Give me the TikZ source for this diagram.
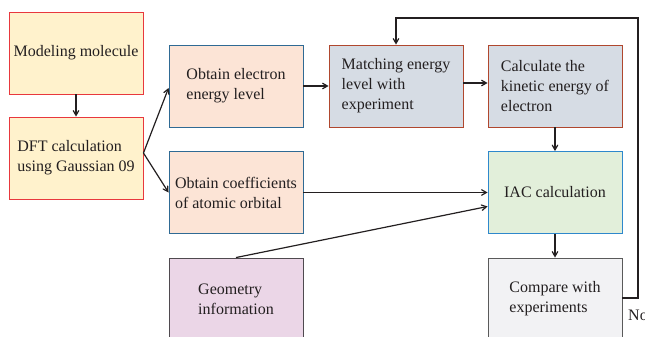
\documentclass[tikz,border=0pt]{standalone}
\usepackage{fontspec}
\setmainfont{Liberation Serif}
\usepackage{tikz}
\usetikzlibrary{shapes.geometric, arrows}
\definecolor{yellowfill}{HTML}{FFF2CC}
\definecolor{redline}{HTML}{E8383D}
\definecolor{salmonfill}{HTML}{FCE4D6}
\definecolor{steelline}{HTML}{2F6A94}
\definecolor{grayblue}{HTML}{D6DCE4}
\definecolor{brownline}{HTML}{B0472E}
\definecolor{greenfill}{HTML}{E2EFDA}
\definecolor{skyline}{HTML}{2E88CC}
\definecolor{pinkfill}{HTML}{EBD6E7}
\definecolor{darkline}{HTML}{4F4A4F}
\definecolor{lightfill}{HTML}{F2F2F4}
\definecolor{grayline}{HTML}{5A5A5A}
\definecolor{inktext}{HTML}{231F20}
\tikzstyle{box} = [rectangle, draw, line width=0.9pt, align=left, minimum width=134pt, minimum height=82pt, inner sep=2pt, text=inktext, font=\fontsize{16}{20}\selectfont]
\tikzstyle{inputbox} = [box, fill=yellowfill, draw=redline]
\tikzstyle{databox} = [box, fill=salmonfill, draw=steelline]
\tikzstyle{stepbox} = [box, fill=grayblue, draw=brownline]
\tikzstyle{calcbox} = [box, fill=greenfill, draw=skyline]
\tikzstyle{geombox} = [box, fill=pinkfill, draw=darkline]
\tikzstyle{checkbox} = [box, fill=lightfill, draw=grayline]
\tikzstyle{arrow} = [line width=1.2pt, draw=inktext, ->, >=angle 60]
\tikzstyle{loopline} = [line width=2.6pt, draw=inktext]

\begin{document}
\begin{tikzpicture}[x=1pt, y=-1pt, node distance=160pt]
  \useasboundingbox (0,0) rectangle (645,337);

  \node (mod) [inputbox] at (76,53) {Modeling molecule};
  \node (dft) [inputbox, node distance=105pt, below of=mod] {DFT calculation\\using Gaussian 09};

  \node (elec) [databox] at (236,86) {Obtain electron\\energy level};
  \node (coef) [databox, node distance=106.5pt, below of=elec] {Obtain coefficients\\of atomic orbital};
  \node (geom) [geombox, node distance=106.5pt, below of=coef] {Geometry\\information};

  \node (match) [stepbox, right of=elec] {Matching energy\\level with\\experiment};
  \node (kin) [stepbox, node distance=159pt, right of=match] {Calculate the\\kinetic energy of\\electron};
  \node (iac) [calcbox, node distance=106.5pt, below of=kin] {IAC calculation};
  \node (comp) [checkbox, node distance=106.5pt, below of=iac] {Compare with\\experiments};

  \node (no) [anchor=base west, inner sep=0pt, text=inktext, font=\fontsize{16}{20}\selectfont] at (628,320) {No};

  \draw [arrow] (mod) -- (dft);
  \draw [arrow] ([yshift=5pt]dft.east) -- ([yshift=-2pt]elec.west);
  \draw [arrow] ([yshift=5pt]dft.east) -- (coef.west);
  \draw [arrow] (elec) -- (match);
  \draw [arrow] ([yshift=3pt]match.east) -- ([yshift=3pt]kin.west);
  \draw [arrow] (kin) -- (iac);
  \draw [arrow] (coef) -- (iac);
  \draw [arrow] (geom.north) -- ([yshift=-14pt]iac.west);
  \draw [arrow] (iac) -- (comp);

  % loop back when no match
  \coordinate (back) at (638,18);
  \coordinate (drop) at (396,18);
  \draw [loopline] ([yshift=1pt]comp.east) -| (back) -- ([xshift=-0.6pt]drop);
  \draw [arrow] (drop) -- (match.north);
\end{tikzpicture}
\end{document}
